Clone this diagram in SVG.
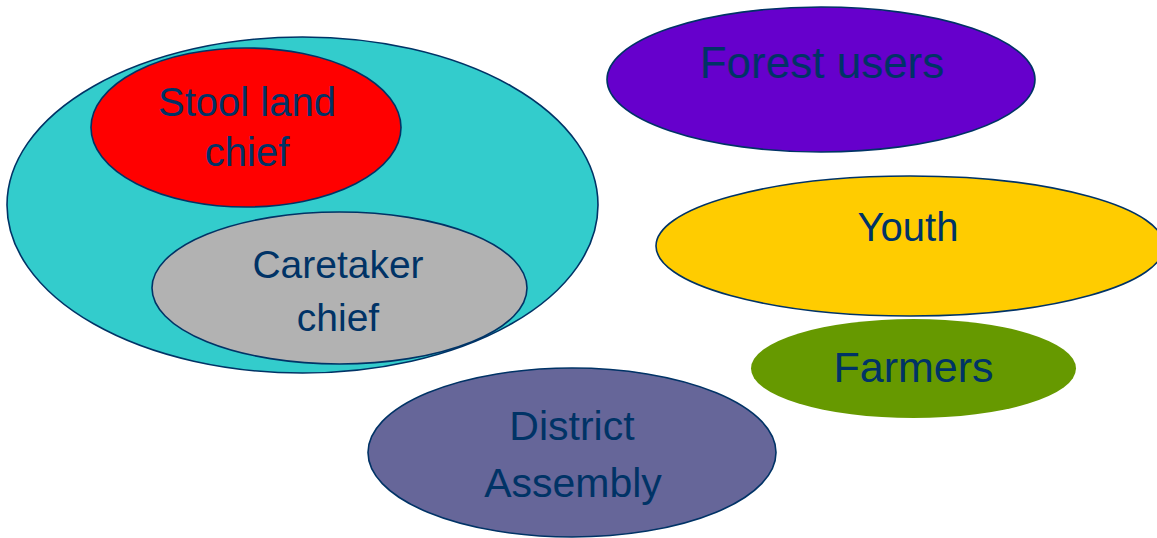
<svg xmlns="http://www.w3.org/2000/svg" width="1157" height="538" viewBox="0 0 1157 538">
<style>
.n{stroke:#003366;stroke-width:1.6}
.t{font-family:"Liberation Sans",Arial,sans-serif;fill:#003366;text-anchor:middle}
</style>
<rect width="1157" height="538" fill="#ffffff"/>
<g id="connectors"></g>
<g id="stool-land">
<ellipse class="n" cx="302.5" cy="205" rx="295.5" ry="168" fill="#33CCCC"/>
</g>
<g id="stool-land-chief">
<ellipse class="n" cx="246" cy="127.5" rx="155" ry="79.5" fill="#FF0000"/>
<text class="t" x="247" y="116" font-size="40">Stool land</text>
<text class="t" x="247" y="166" font-size="40">chief</text>
</g>
<g id="caretaker-chief">
<ellipse class="n" cx="339.5" cy="288" rx="187.5" ry="76" fill="#B2B2B2"/>
<text class="t" x="338" y="278" font-size="39">Caretaker</text>
<text class="t" x="338" y="331" font-size="39">chief</text>
</g>
<g id="district-assembly">
<ellipse class="n" cx="572" cy="452.5" rx="204" ry="84.5" fill="#666699"/>
<text class="t" x="572" y="440" font-size="41">District</text>
<text class="t" x="573" y="497" font-size="41">Assembly</text>
</g>
<g id="forest-users">
<ellipse class="n" cx="821" cy="79.5" rx="214" ry="72.5" fill="#6600CC"/>
<text class="t" x="822" y="78" font-size="44">Forest users</text>
</g>
<g id="youth">
<ellipse class="n" cx="910" cy="246" rx="254" ry="70" fill="#FFCC00"/>
<text class="t" x="908" y="241" font-size="40">Youth</text>
</g>
<g id="farmers">
<ellipse cx="913.5" cy="368.5" rx="162.5" ry="49.5" fill="#669900"/>
<text class="t" x="913.5" y="382" font-size="43">Farmers</text>
</g>
</svg>
